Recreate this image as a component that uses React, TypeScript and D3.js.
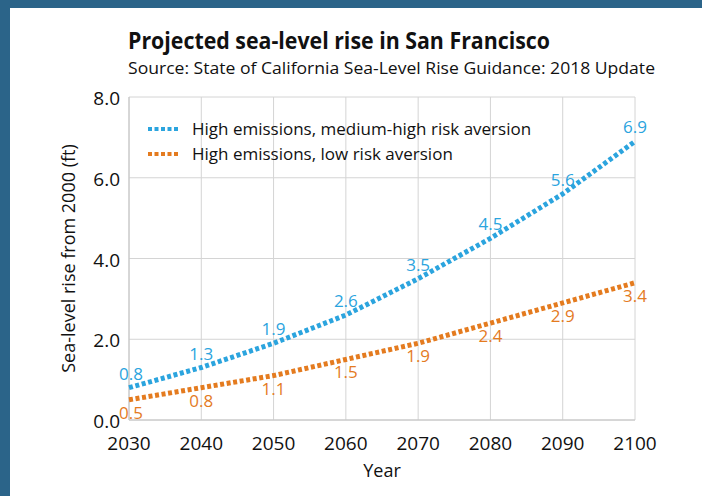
import * as d3 from "d3";

// data
const years = [2030, 2040, 2050, 2060, 2070, 2080, 2090, 2100];
const mediumHigh = [0.8, 1.3, 1.9, 2.6, 3.5, 4.5, 5.6, 6.9];
const lowRisk = [0.5, 0.8, 1.1, 1.5, 1.9, 2.4, 2.9, 3.4];
const yTicks = [0, 2, 4, 6, 8];

const seriesNames = [
  "High emissions, medium-high risk aversion",
  "High emissions, low risk aversion",
];
const blue = "#2ba4de";
const orange = "#e47b1f";
const font = "'Open Sans', 'Noto Sans', sans-serif";

export default function App() {
  const width = 702;
  const height = 496;

  const marginLeft = 129;
  const marginRight = 67;
  const marginTop = 97;
  const marginBottom = 76;

  const x = d3
    .scaleLinear()
    .domain([2030, 2100])
    .range([marginLeft, width - marginRight]);
  const y = d3
    .scaleLinear()
    .domain([0, 8])
    .range([height - marginBottom, marginTop]);

  const line = d3
    .line<number>()
    .x((_, i) => x(years[i]))
    .y((d) => y(d));

  const series = [
    { values: mediumHigh, color: blue, dy: -8 },
    { values: lowRisk, color: orange, dy: 19 },
  ];

  return (
    <svg
      width={width}
      height={height}
      viewBox={`0 0 ${width} ${height}`}
      style={{ position: "absolute", left: 0, top: 0 }}
    >
      <rect width={width} height={height} fill="#2b6489" />
      <rect x={10} y={8} width={width - 10} height={height - 8} fill="#ffffff" />

      {/* titles */}
      <text
        x={128}
        y={49}
        fontFamily={font}
        fontWeight="bold"
        fontSize={24}
        fill="#111"
        textLength={422}
        lengthAdjust="spacingAndGlyphs"
      >
        Projected sea-level rise in San Francisco
      </text>
      <text
        x={128}
        y={74}
        fontFamily={font}
        fontSize={17}
        fill="#111"
        textLength={527}
        lengthAdjust="spacingAndGlyphs"
      >
        Source: State of California Sea-Level Rise Guidance: 2018 Update
      </text>

      {/* grid */}
      <g stroke="#d4d4d4" strokeWidth={1}>
        {years.map((d) => (
          <line key={d} x1={x(d)} x2={x(d)} y1={y(8)} y2={y(0)} />
        ))}
        {yTicks.map((d) => (
          <line key={d} x1={x(2030)} x2={x(2100)} y1={y(d)} y2={y(d)} />
        ))}
      </g>
      <line x1={x(2030)} x2={x(2030)} y1={y(8)} y2={y(0)} stroke="#c4c4c4" />
      <line x1={x(2030)} x2={x(2100)} y1={y(0)} y2={y(0)} stroke="#c4c4c4" />

      {/* axis labels */}
      <g fontFamily={font} fontSize={19} fill="#111">
        {years.map((d) => (
          <text key={d} x={x(d)} y={y(0) + 30} textAnchor="middle">
            {d}
          </text>
        ))}
        {yTicks.map((d) => (
          <text key={d} x={x(2030) - 9} y={y(d) + 8} textAnchor="end">
            {d.toFixed(1)}
          </text>
        ))}
      </g>
      <text
        x={(x(2030) + x(2100)) / 2}
        y={477}
        textAnchor="middle"
        fontFamily={font}
        fontSize={18}
        fill="#111"
      >
        Year
      </text>
      <text
        transform={`translate(75, ${(y(0) + y(8)) / 2}) rotate(-90)`}
        textAnchor="middle"
        fontFamily={font}
        fontSize={18}
        fill="#111"
      >
        Sea-level rise from 2000 (ft)
      </text>

      {/* lines */}
      {series.map((s, k) => (
        <path
          key={k}
          d={line(s.values) ?? ""}
          fill="none"
          stroke={s.color}
          strokeWidth={5}
          strokeDasharray="4 2.6"
        />
      ))}

      {/* value labels */}
      {series.map((s, k) => (
        <g key={k} fontFamily={font} fontSize={17} fill={s.color} textAnchor="middle">
          {s.values.map((v, i) => (
            <text key={i} x={x(years[i]) + (i === 0 ? 2 : 0)} y={y(v) + s.dy}>
              {v.toFixed(1)}
            </text>
          ))}
        </g>
      ))}

      {/* legend */}
      {series.map((s, k) => (
        <g key={k} transform={`translate(148, ${129 + k * 25})`}>
          <line x1={0} x2={32} y1={0} y2={0} stroke={s.color} strokeWidth={4} strokeDasharray="4 2.5" />
          <text x={44} y={6} fontFamily={font} fontSize={17} fill="#111">
            {seriesNames[k]}
          </text>
        </g>
      ))}
    </svg>
  );
}
